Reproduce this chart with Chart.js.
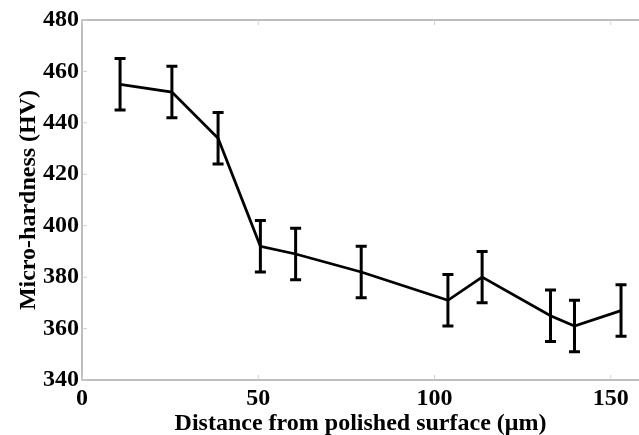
<!DOCTYPE html>
<html>
<head>
<meta charset="utf-8">
<script src="https://cdn.jsdelivr.net/npm/chart.js@4.4.0/dist/chart.umd.min.js"></script>
<style>
  html, body { margin: 0; padding: 0; background: #fff; }
  #wrap { width: 639px; height: 435px; }
</style>
</head>
<body>
<div id="wrap"><canvas id="hardnessChart" width="639" height="435"></canvas></div>
<script>
/* ===================== DATA ===================== */
const distance = [10.8, 25.5, 38.6, 50.6, 60.6, 79.2, 103.8, 113.5, 132.9, 139.7, 152.9];
const hardness = [455, 452, 434, 392, 389, 382, 371, 380, 365, 361, 367];
const errorBar = [10, 10, 10, 10, 10, 10, 10, 10, 10, 10, 10];
const xTicks = [0, 50, 100, 150];
const yTicks = [340, 360, 380, 400, 420, 440, 460, 480];

const FONT = "'Liberation Serif', 'Times New Roman', serif";

/* ===================== PLUGINS ===================== */
// light gray frame + short inward tick marks
const framePlugin = {
  id: "frame",
  beforeDatasetsDraw(chart) {
    const { ctx, chartArea: a, scales } = chart;
    ctx.save();
    ctx.strokeStyle = "#a8a8a8";
    ctx.lineWidth = 1.5;
    ctx.strokeRect(a.left, a.top, a.right - a.left + 10, a.bottom - a.top);
    ctx.strokeStyle = "#d0d0d0";
    ctx.lineWidth = 1;
    yTicks.forEach(v => {
      const y = scales.y.getPixelForValue(v);
      ctx.beginPath();
      ctx.moveTo(a.left, y);
      ctx.lineTo(a.left + 5, y);
      ctx.stroke();
    });
    xTicks.forEach(v => {
      const x = scales.x.getPixelForValue(v);
      ctx.beginPath();
      ctx.moveTo(x, a.bottom);
      ctx.lineTo(x, a.bottom - 5);
      ctx.moveTo(x, a.top);
      ctx.lineTo(x, a.top + 5);
      ctx.stroke();
    });
    ctx.restore();
  }
};

// vertical error bars with caps
const errorBarPlugin = {
  id: "errorBars",
  afterDatasetsDraw(chart) {
    const { ctx, scales } = chart;
    ctx.save();
    ctx.strokeStyle = "#000";
    ctx.lineWidth = 3;
    distance.forEach((d, i) => {
      const x = scales.x.getPixelForValue(d);
      const yTop = scales.y.getPixelForValue(hardness[i] + errorBar[i]);
      const yBot = scales.y.getPixelForValue(hardness[i] - errorBar[i]);
      ctx.beginPath();
      ctx.moveTo(x, yTop);
      ctx.lineTo(x, yBot);
      ctx.moveTo(x - 5.5, yTop);
      ctx.lineTo(x + 5.5, yTop);
      ctx.moveTo(x - 5.5, yBot);
      ctx.lineTo(x + 5.5, yBot);
      ctx.stroke();
    });
    ctx.restore();
  }
};

/* ===================== CHART ===================== */
new Chart(document.getElementById("hardnessChart"), {
  type: "scatter",
  data: {
    datasets: [{
      data: distance.map((d, i) => ({ x: d, y: hardness[i] })),
      showLine: true,
      borderColor: "#000",
      borderWidth: 2.8,
      pointRadius: 0,
      tension: 0
    }]
  },
  options: {
    responsive: false,
    animation: false,
    layout: { padding: { top: 20, right: 0, left: 0, bottom: 0 } },
    plugins: {
      legend: { display: false },
      tooltip: { enabled: false }
    },
    scales: {
      x: {
        type: "linear",
        min: 0,
        max: 158,
        afterBuildTicks: s => { s.ticks = xTicks.map(v => ({ value: v })); },
        afterFit: s => { s.height = 55; },
        grid: { display: false, drawTicks: false },
        border: { display: false },
        ticks: {
          color: "#000",
          padding: 4,
          maxRotation: 0,
          font: { family: FONT, size: 24, weight: "bold" }
        },
        title: {
          display: true,
          text: "Distance from polished surface (μm)",
          color: "#000",
          padding: { top: 0, bottom: -3 },
          font: { family: FONT, size: 24, weight: "bold" }
        }
      },
      y: {
        min: 340,
        max: 480,
        afterBuildTicks: s => { s.ticks = yTicks.map(v => ({ value: v })); },
        afterFit: s => { s.width = 82; },
        grid: { display: false, drawTicks: false },
        border: { display: false },
        ticks: {
          color: "#000",
          padding: 3,
          font: { family: FONT, size: 24, weight: "bold" }
        },
        title: {
          display: true,
          text: "Micro-hardness (HV)",
          color: "#000",
          padding: { top: 14, bottom: 0 },
          font: { family: FONT, size: 24, weight: "bold" }
        }
      }
    }
  },
  plugins: [framePlugin, errorBarPlugin]
});
</script>
</body>
</html>
